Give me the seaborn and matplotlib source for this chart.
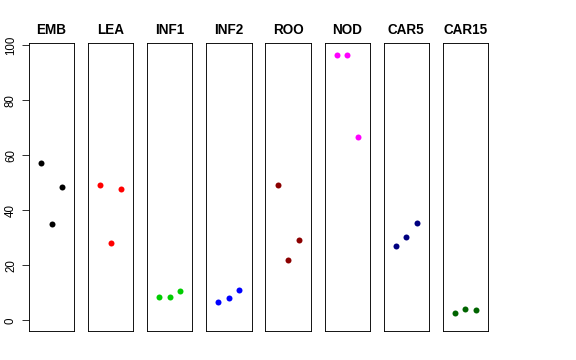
import matplotlib
matplotlib.use("Agg")
import matplotlib.pyplot as plt
import seaborn as sns
import pandas as pd

sns.set_style("white")
plt.rcParams['font.family'] = ['Liberation Sans', 'DejaVu Sans']
plt.rcParams['text.color'] = 'black'
plt.rcParams['axes.labelcolor'] = 'black'
plt.rcParams['ytick.color'] = 'black'

tissues = ["EMB", "LEA", "INF1", "INF2", "ROO", "NOD", "CAR5", "CAR15"]
colors = ["#000000", "#FF0000", "#00CD00", "#0000FF", "#8B0000", "#FF00FF", "#000080", "#006400"]
emb = [57.3, 35.0, 48.6]
lea = [49.2, 28.1, 47.6]
inf1 = [8.5, 8.4, 10.5]
inf2 = [6.8, 8.1, 11.1]
roo = [49.4, 22.1, 29.3]
nod = [96.6, 96.5, 66.7]
car5 = [27.2, 30.2, 35.5]
car15 = [2.8, 4.2, 3.7]
replicates = [1, 2, 3]
yticks = [0, 20, 40, 60, 80, 100]

values = [emb, lea, inf1, inf2, roo, nod, car5, car15]
rows = []
for t, vals in zip(tissues, values):
    for r, v in zip(replicates, vals):
        rows.append({"tissue": t, "rep": r, "value": v})
df = pd.DataFrame(rows)

fig, axes = plt.subplots(1, 8, figsize=(8, 5), dpi=72, sharey=True)
fig.subplots_adjust(left=29/576, right=488/576, top=1-43/360, bottom=1-331/360, wspace=0.31)

for i, (ax, t, c) in enumerate(zip(axes, tissues, colors)):
    sub = df[df["tissue"] == t]
    sns.scatterplot(data=sub, x="rep", y="value", ax=ax, color=c, s=36, edgecolor=c, linewidth=0)
    ax.set_xlim(-0.16, 4.16)
    ax.set_ylim(-3.88, 100.88)
    ax.set_xlabel("")
    ax.set_ylabel("")
    ax.set_xticks([])
    ax.set_title(t, fontsize=13.5, fontweight="bold", pad=9, color="black")
    for sp in ax.spines.values():
        sp.set_visible(True)
        sp.set_color("black")
        sp.set_linewidth(0.9)
    if i == 0:
        ax.set_yticks(yticks)
        ax.set_yticklabels([str(v) for v in yticks], rotation=90, va="center", fontsize=11.5, color="black")
        ax.tick_params(axis="y", left=True, length=7, width=0.8, pad=5, colors="black")
    else:
        ax.tick_params(axis="y", left=False, labelleft=False)

fig.savefig("out.png", dpi=72, facecolor="white")
